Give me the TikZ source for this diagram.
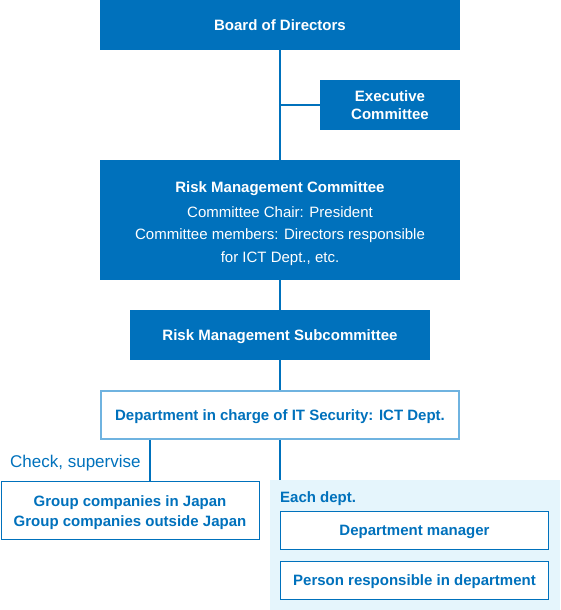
\documentclass[tikz,border=0pt]{standalone}
\usepackage{fontspec}
\setmainfont{Liberation Sans}
\definecolor{rmblue}{HTML}{0071BC}
\definecolor{rmlight}{HTML}{6FB3E0}
\definecolor{rmpale}{HTML}{E5F5FC}
\begin{document}
\begin{tikzpicture}[x=1pt,y=-1pt,
		solidbox/.style={fill=rmblue,text=white,inner sep=0pt,align=center,text height=10.8pt,text depth=0pt,font=\bfseries\fontsize{15}{17.5}\selectfont},
		framebox/.style={draw=rmblue,line width=1pt,fill=white,text=rmblue,inner sep=0pt,align=center,text height=10.8pt,text depth=0pt,font=\bfseries\fontsize{15}{20}\selectfont},
		link/.style={draw=rmblue,line width=2.5pt}]
		\useasboundingbox (0,0) rectangle (560,610);
		% pale area for each department
		\node[fill=rmpale,inner sep=0pt,minimum width=290pt,minimum height=130pt] (area) at (415,545) {};
		\node[solidbox,minimum width=360pt,minimum height=50pt] (board) at (280,25) {Board of Directors};
		\node[solidbox,minimum width=140pt,minimum height=50pt,text height=28.8pt] (exec) at (390,105) {Executive\\Committee};
		\node[solidbox,minimum width=360pt,minimum height=120pt,text height=84.8pt,font=\fontsize{15}{22.5}\selectfont] (rmc) at (280,220)
			{\textbf{Risk Management Committee}\\[2.5pt]Committee Chair: President\\Committee members: Directors responsible\\for ICT Dept., etc.};
		\node[solidbox,minimum width=300pt,minimum height=50pt] (sub) at (280,335) {Risk Management Subcommittee};
		\node[framebox,draw=rmlight,line width=2pt,minimum width=358pt,minimum height=48pt] (dept) at (280,415) {Department in charge of IT Security: ICT Dept.};
		\node[framebox,minimum width=258pt,minimum height=58pt,text height=32.8pt] (group) at (130,510) {Group companies in Japan\\Group companies outside Japan};
		\node[framebox,minimum width=268pt,minimum height=38pt] (mgr) at (414.5,530) {Department manager};
		\node[framebox,minimum width=268pt,minimum height=38pt] (person) at (414.5,580) {Person responsible in department};
		\node[anchor=base west,inner sep=0pt,text=rmblue,font=\fontsize{17}{20}\selectfont] (check) at (10,467) {Check, supervise};
		\node[anchor=base west,inner sep=0pt,text=rmblue,font=\bfseries\fontsize{15}{18}\selectfont] (each) at (280,502.4) {Each dept.};
		% connectors
		\draw[link] (board) -- (rmc);
		\draw[link] (exec.west) -- (exec.west -| board.south);
		\draw[link] (rmc) -- (sub);
		\draw[link] (sub) -- (dept);
		\draw[link] ([xshift=-130pt]dept.south) -- ([xshift=20pt]group.north);
		\draw[link] (dept.south) -- (dept.south |- area.north);
	\end{tikzpicture}
\end{document}
